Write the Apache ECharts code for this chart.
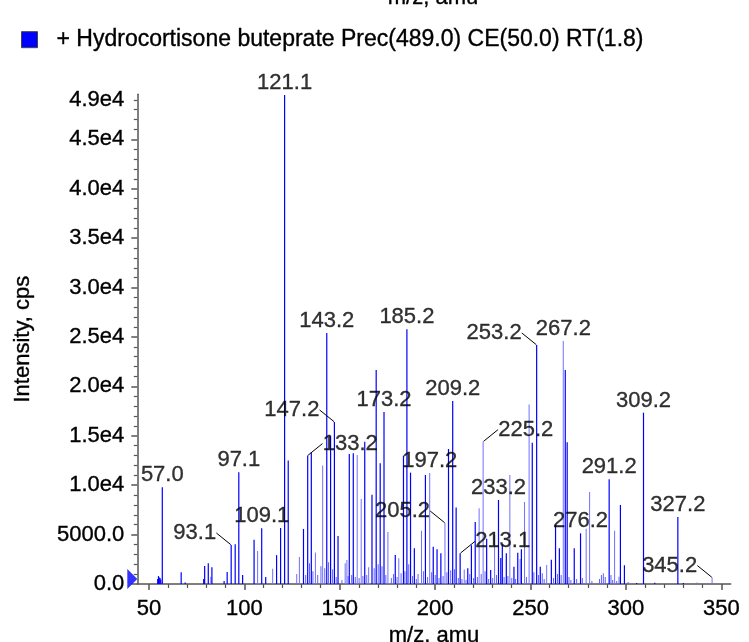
<!DOCTYPE html>
<html>
<head>
<meta charset="utf-8">
<title>Hydrocortisone buteprate</title>
<script src="https://cdn.jsdelivr.net/npm/echarts@6/dist/echarts.min.js"></script>
<style>
  html, body { margin: 0; padding: 0; background: #fff; }
  #main { width: 749px; height: 642px; }
</style>
</head>
<body>
<div id="main"></div>
<script>
var seriesName = '+ Hydrocortisone buteprate Prec(489.0) CE(50.0) RT(1.8)';
var fontFamily = '"Liberation Sans", Arial, sans-serif';

// axis ranges
var mzMin = 43.9, mzMax = 354.9;
var intMax = 49560;

// full blue peaks
var strongMz = [54.6, 55.0, 55.4, 55.8, 56.2, 57.0, 66.9, 69.0, 78.7, 79.2, 81.1, 83.0, 89.4, 91.0, 93.1, 95.2, 97.1, 99.1,
  105.1, 109.1, 111.2, 116.9, 119.0, 121.1, 123.0, 131.0, 133.2, 135.1, 143.2, 145.2, 147.2, 149.1, 155.0, 157.1,
  163.1, 166.9, 169.1, 171.2, 173.2, 179.1, 183.4, 185.2, 187.1, 189.1, 194.9, 199.0, 201.0, 203.0, 207.0, 209.2,
  211.0, 213.1, 217.1, 219.0, 221.0, 227.0, 229.1, 233.2, 234.4, 235.2, 237.3, 241.3, 243.3, 245.2, 250.9, 253.2,
  255.1, 260.9, 263.1, 265.1, 268.2, 269.2, 272.9, 276.2, 291.2, 297.1, 299.2, 305.6, 309.2, 315.1, 327.2, 330.1];
var strongInt = [500, 800, 650, 600, 450, 9800, 1200, 150, 500, 1820, 2100, 1700, 300, 1220, 3950, 4030, 11300, 900,
  4470, 5650, 720, 2920, 5670, 49500, 12500, 5570, 13000, 13330, 25400, 15000, 16400, 4860, 13160, 13230,
  14400, 9040, 21660, 12210, 17410, 2930, 13000, 25780, 11270, 3610, 11030, 3780, 3510, 3100, 13660, 18520,
  7730, 3100, 1590, 3910, 6280, 4590, 1420, 8500, 2630, 4010, 3100, 1750, 3170, 3510, 14300, 24190,
  1750, 2450, 6000, 3620, 21660, 14350, 3610, 5130, 10590, 8000, 1900, 100, 17340, 130, 6780, 100];

// paler peaks
var lightMz = [82.5, 107.0, 114.9, 127.5, 128.9, 137.3, 141.1, 152.9, 153.8, 159.2, 161.3, 165.2, 175.3, 181.0,
  192.9, 197.2, 205.2, 215.3, 223.1, 225.2, 231.2, 239.2, 244.6, 246.9, 249.3, 258.5, 267.2, 279.2, 281.0,
  294.1, 296.4, 337.3, 345.2];
var lightInt = [740, 3330, 1550, 1000, 2730, 3180, 11990, 2090, 2430, 13060, 8600, 1690, 5260, 2600,
  5400, 11240, 6170, 1480, 7660, 14410, 4960, 11030, 2530, 8300, 18170, 1920, 24600, 5600, 9310,
  5380, 740, 150, 650];

// small peaks along the baseline
var fuzzMz = [132.2, 134.2, 136.0, 138.5, 140.2, 142.2, 144.2, 146.3, 148.2, 151.2, 154.4, 156.3, 158.2, 160.2,
  162.2, 164.2, 168.1, 170.2, 172.2, 174.2, 177.1, 178.2, 180.1, 182.2, 184.2, 186.2, 188.2, 190.2, 191.1,
  193.9, 196.1, 198.2, 200.1, 202.1, 204.2, 206.2, 208.2, 210.2, 212.2, 214.1, 216.2, 218.2, 220.2, 222.2,
  224.2, 226.2, 228.1, 230.2, 232.2, 236.2, 238.2, 240.2, 242.2, 247.9, 251.8, 254.2, 256.2, 257.2, 262.1,
  264.2, 266.1, 270.2, 271.2, 274.2, 277.2, 282.2, 286.2, 287.2, 288.2, 289.2, 292.2, 293.1, 295.2, 301.2];
var fuzzInt = [900, 2100, 1300, 900, 1800, 1600, 2200, 1500, 700, 400, 800, 900, 700, 600,
  800, 900, 1600, 2000, 1800, 900, 600, 1000, 700, 1100, 1300, 2000, 800, 500, 1000,
  1300, 700, 1200, 900, 600, 800, 1200, 1400, 1500, 600, 500, 400, 1000, 600, 700,
  1000, 1300, 500, 600, 900, 700, 800, 600, 500, 700, 1200, 900, 1100, 500, 600,
  1000, 900, 700, 400, 500, 600, 300, 500, 900, 1100, 700, 900, 400, 300, 200];

// labelled peaks and where their label sits (up = above, l / r = beside with a leader)
var labelMz = [57.0, 93.1, 97.1, 109.1, 121.1, 133.2, 143.2, 147.2, 173.2, 185.2, 197.2, 205.2, 209.2,
  213.1, 225.2, 233.2, 253.2, 267.2, 276.2, 291.2, 309.2, 327.2, 345.2];
var labelSide = ['up', 'l', 'up', 'up', 'up', 'r', 'up', 'l', 'up', 'up', 'up', 'l', 'up',
  'r', 'r', 'up', 'l', 'up', 'up', 'up', 'up', 'up', 'l'];

// tick values
var xTicks = [50, 100, 150, 200, 250, 300, 350];
var yTicks = [0, 5000, 10000, 15000, 20000, 25000, 30000, 35000, 40000, 45000];
var yTopLabel = 49000;

var xMinor = [];
for (var t = 50; t <= 350; t += 10) if (t % 50 !== 0) xMinor.push(t);
var yMinor = [];
for (var u = 1000; u <= 49000; u += 1000) if (u % 5000 !== 0) yMinor.push(u);

function pairs(xs, ys) {
  return xs.map(function (x, i) { return [x, ys[i]]; });
}

var allPeaks = pairs(strongMz, strongInt).concat(pairs(lightMz, lightInt));
function intensityAt(mz) {
  for (var i = 0; i < allPeaks.length; i++) {
    if (Math.abs(allPeaks[i][0] - mz) < 0.05) return allPeaks[i][1];
  }
  return 0;
}

var labelData = labelMz.map(function (m, i) {
  return { value: [m, intensityAt(m)], labelLine: { show: labelSide[i] !== 'up' } };
});

function fmtY(v) {
  if (v === 0) return '0.0';
  if (v < 10000) return v.toFixed(1);
  return (v / 10000).toFixed(1) + 'e4';
}

var axisColor = '#555';
// slightly heavier black text, like the original plot
var txt = { fontSize: 22, color: '#000', fontFamily: fontFamily, textBorderColor: '#000', textBorderWidth: 0.35 };
function withTxt(extra) {
  var o = {};
  for (var k in txt) o[k] = txt[k];
  for (var j in extra) o[j] = extra[j];
  return o;
}

var myChart = echarts.init(document.getElementById('main'));

myChart.setOption({
  animation: false,
  textStyle: { fontFamily: fontFamily },
  legend: {
    data: [seriesName],
    left: 21,
    top: 28,
    padding: 0,
    icon: 'rect',
    itemWidth: 16,
    itemHeight: 16,
    selectedMode: false,
    itemStyle: { color: '#0000ff', borderColor: '#444', borderWidth: 1 },
    textStyle: withTxt({ fontSize: 23, padding: [0, 0, 0, 14] })
  },
  graphic: [{
    type: 'text',
    x: 433,
    y: 9,
    style: { text: 'm/z, amu', textAlign: 'center', textVerticalAlign: 'bottom', font: '22px ' + fontFamily,
      fill: '#000', stroke: '#000', lineWidth: 0.35 }
  }],
  grid: { left: 137.3, right: 18.3, top: 94.3, bottom: 58, outerBoundsMode: 'none', containLabel: false },
  xAxis: [{
    type: 'value',
    min: mzMin,
    max: mzMax,
    name: 'm/z, amu',
    nameLocation: 'middle',
    nameGap: 38,
    nameTextStyle: withTxt({}),
    axisLine: { show: true, onZero: false, lineStyle: { color: axisColor, width: 1.5 } },
    axisTick: { show: true, length: 6, customValues: xTicks, lineStyle: { color: axisColor, width: 1.5 } },
    axisLabel: withTxt({ customValues: xTicks, margin: 14 }),
    splitLine: { show: false }
  }, {
    type: 'value',
    min: mzMin,
    max: mzMax,
    position: 'bottom',
    axisLine: { show: false },
    axisLabel: { show: false },
    axisTick: { show: true, length: 4, customValues: xMinor, lineStyle: { color: axisColor, width: 1.2 } },
    splitLine: { show: false }
  }],
  yAxis: [{
    type: 'value',
    min: 0,
    max: intMax,
    name: 'Intensity, cps',
    nameLocation: 'middle',
    nameGap: 103,
    nameTextStyle: withTxt({}),
    axisLine: { show: true, onZero: false, lineStyle: { color: axisColor, width: 1.5 } },
    axisTick: { show: true, length: 6, customValues: yTicks, lineStyle: { color: axisColor, width: 1.5 } },
    axisLabel: withTxt({ customValues: yTicks.concat([yTopLabel]), formatter: fmtY, margin: 13 }),
    splitLine: { show: false }
  }, {
    type: 'value',
    min: 0,
    max: intMax,
    position: 'left',
    axisLine: { show: false },
    axisLabel: { show: false },
    axisTick: { show: true, length: 3.5, customValues: yMinor, lineStyle: { color: axisColor, width: 1.2 } },
    splitLine: { show: false }
  }],
  series: [
    {
      name: seriesName,
      type: 'bar',
      data: pairs(fuzzMz, fuzzInt),
      barWidth: 1,
      barGap: '-100%',
      itemStyle: { color: '#6060ff' },
      silent: true
    },
    {
      name: seriesName,
      type: 'bar',
      data: pairs(lightMz, lightInt),
      barWidth: 1,
      barGap: '-100%',
      itemStyle: { color: '#7070ff' },
      silent: true
    },
    {
      name: seriesName,
      type: 'bar',
      data: pairs(strongMz, strongInt),
      barWidth: 1.2,
      barGap: '-100%',
      itemStyle: { color: '#0000ff' },
      silent: true
    },
    {
      // peak labels
      type: 'scatter',
      data: labelData,
      symbolSize: 1,
      itemStyle: { color: 'rgba(0,0,0,0)' },
      silent: true,
      z: 5,
      label: withTxt({
        show: true,
        position: 'top',
        formatter: function (p) { return p.value[0].toFixed(1); }
      }),
      labelLine: { show: true, lineStyle: { color: '#000', width: 1 } },
      labelLayout: function (p) {
        var side = labelSide[p.dataIndex];
        var px = p.rect.x + p.rect.width / 2;
        var py = p.rect.y + p.rect.height / 2;
        var cy = py - 12;
        if (side === 'up') {
          return { x: px, y: cy, align: 'center', verticalAlign: 'middle' };
        }
        var ex = side === 'l' ? px - 15 : px + 15;
        return {
          x: ex,
          y: cy,
          align: side === 'l' ? 'right' : 'left',
          verticalAlign: 'middle',
          labelLinePoints: [[px, py - 3], [side === 'l' ? ex + 1 : ex - 1, cy + 4]]
        };
      }
    },
    {
      // blue marker at the start of the baseline
      type: 'scatter',
      data: [[mzMin, 0]],
      symbol: 'triangle',
      symbolSize: [20, 10],
      symbolRotate: -90,
      symbolOffset: [-5, -5],
      itemStyle: { color: '#0000ff' },
      clip: false,
      silent: true,
      z: 6
    }
  ]
});
</script>
</body>
</html>
